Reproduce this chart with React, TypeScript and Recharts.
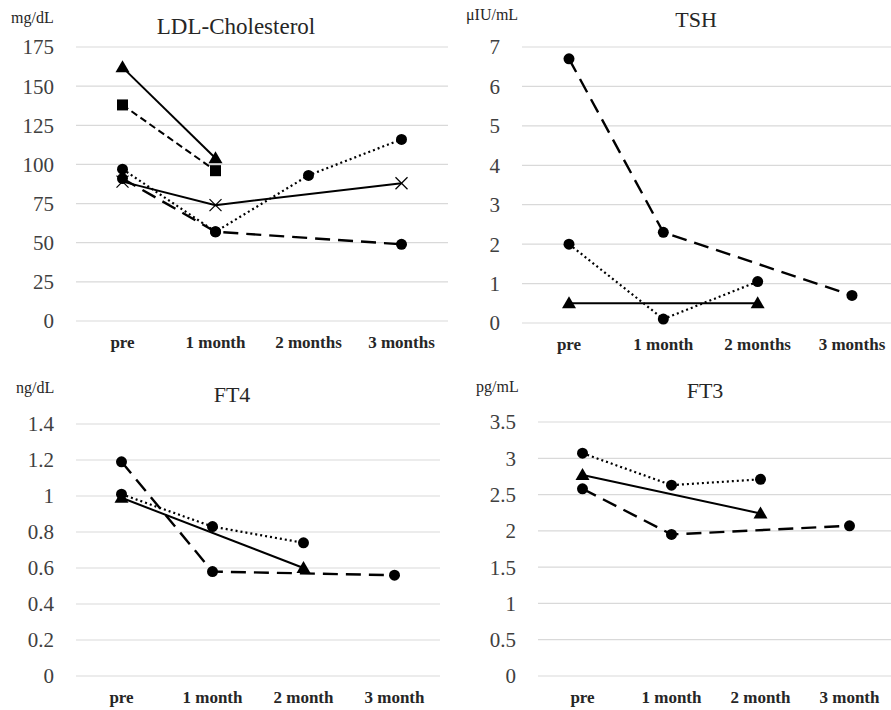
import { LineChart, Line, XAxis, YAxis, CartesianGrid } from 'recharts';

const monthsPlural = ['pre', '1 month', '2 months', '3 months'];
const monthsSingular = ['pre', '1 month', '2 month', '3 month'];

// LDL-Cholesterol (mg/dL)
const ldlTriangle = [162, 104, null, null];
const ldlSquare = [138, 96, null, null];
const ldlDotted = [97, 57, 93, 116];
const ldlCross = [89, 74, null, 88];
const ldlDashed = [91, 57, null, 49];
const ldlTicks = [0, 25, 50, 75, 100, 125, 150, 175];

// TSH (μIU/mL)
const tshDashed = [6.7, 2.3, null, 0.7];
const tshDotted = [2.0, 0.1, 1.05, null];
const tshTriangle = [0.5, null, 0.5, null];
const tshTicks = [0, 1, 2, 3, 4, 5, 6, 7];

// FT4 (ng/dL)
const ft4Dashed = [1.19, 0.58, null, 0.56];
const ft4Dotted = [1.01, 0.83, 0.74, null];
const ft4Triangle = [0.99, null, 0.6, null];
const ft4Ticks = [0, 0.2, 0.4, 0.6, 0.8, 1, 1.2, 1.4];

// FT3 (pg/mL)
const ft3Dotted = [3.07, 2.63, 2.71, null];
const ft3Triangle = [2.77, null, 2.24, null];
const ft3Dashed = [2.58, 1.95, null, 2.07];
const ft3Ticks = [0, 0.5, 1, 1.5, 2, 2.5, 3, 3.5];

const SERIF = "'Liberation Serif', 'Times New Roman', serif";
const INK = '#000';

type Marker = 'circle' | 'triangle' | 'square' | 'cross';
type Style = 'solid' | 'dash' | 'longdash' | 'dot';

const dashes: Record<Style, string | undefined> = {
  solid: undefined,
  dash: '7 4',
  longdash: '15 8',
  dot: '2 3',
};

function makeDot(marker: Marker) {
  return (props: any) => {
    const { cx, cy, index } = props;
    const k = `${marker}-${index}`;
    if (cx == null || cy == null) return <g key={k} />;
    if (marker === 'circle') return <circle key={k} cx={cx} cy={cy} r={5.5} fill={INK} />;
    if (marker === 'square') return <rect key={k} x={cx - 5.5} y={cy - 5.5} width={11} height={11} fill={INK} />;
    if (marker === 'triangle')
      return <polygon key={k} points={`${cx},${cy - 7} ${cx - 7},${cy + 5} ${cx + 7},${cy + 5}`} fill={INK} />;
    return (
      <g key={k} stroke={INK} strokeWidth={1.2}>
        <line x1={cx - 6} y1={cy - 6} x2={cx + 6} y2={cy + 6} />
        <line x1={cx - 6} y1={cy + 6} x2={cx + 6} y2={cy - 6} />
      </g>
    );
  };
}

const renderXTick = (props: any) => {
  const { x, y, payload, index } = props;
  return (
    <text
      key={`x-${index}`}
      x={x}
      y={y}
      dy="0.71em"
      textAnchor="middle"
      fill="#262626"
      style={{ fontFamily: SERIF, fontSize: 17, fontWeight: 700 }}
    >
      {payload.value}
    </text>
  );
};

const renderYTick = (props: any) => {
  const { x, y, payload, index } = props;
  return (
    <text
      key={`y-${index}`}
      x={x}
      y={y}
      dy="0.355em"
      textAnchor="end"
      fill="#404040"
      style={{ fontFamily: SERIF, fontSize: 21 }}
    >
      {payload.value}
    </text>
  );
};

interface Series {
  key: string;
  values: (number | null)[];
  marker: Marker;
  style: Style;
}

interface PanelProps {
  left: number;
  top: number;
  width: number;
  height: number;
  plotTop: number;
  axisWidth: number;
  padX: number;
  categories: string[];
  ticks: number[];
  series: Series[];
}

function Panel({ left, top, width, height, plotTop, axisWidth, padX, categories, ticks, series }: PanelProps) {
  const data = categories.map((name, i) => {
    const row: Record<string, string | number | null> = { name };
    series.forEach((s) => {
      row[s.key] = s.values[i];
    });
    return row;
  });

  return (
    <div style={{ position: 'absolute', left, top, fontFamily: SERIF }}>
      <LineChart width={width} height={height} data={data} margin={{ top: plotTop, right: 0, bottom: 0, left: 0 }}>
        <CartesianGrid vertical={false} stroke="#d9d9d9" strokeWidth={1.2} />
        <XAxis
          dataKey="name"
          interval={0}
          axisLine={false}
          tickLine={false}
          tickSize={0}
          tickMargin={15}
          height={34}
          padding={{ left: padX, right: padX }}
          tick={renderXTick}
        />
        <YAxis
          width={axisWidth}
          domain={[ticks[0], ticks[ticks.length - 1]]}
          ticks={ticks}
          interval={0}
          axisLine={false}
          tickLine={false}
          tickSize={0}
          tickMargin={22}
          tick={renderYTick}
        />
        {series.map((s) => (
          <Line
            key={s.key}
            dataKey={s.key}
            type="linear"
            stroke={INK}
            strokeWidth={s.style === 'dot' ? 2.2 : s.style === 'longdash' ? 2.4 : 2}
            strokeDasharray={dashes[s.style]}
            dot={makeDot(s.marker)}
            activeDot={false}
            connectNulls
            isAnimationActive={false}
          />
        ))}
      </LineChart>
    </div>
  );
}

export default function App() {
  return (
    <div
      style={{
        position: 'absolute',
        left: 0,
        top: 0,
        width: 891,
        height: 710,
        overflow: 'hidden',
        background: '#fff',
      }}
    >
      <Panel
        left={0}
        top={0}
        width={448}
        height={355}
        plotTop={47}
        axisWidth={76}
        padX={46.5}
        categories={monthsPlural}
        ticks={ldlTicks}
        series={[
          { key: 'triangle', values: ldlTriangle, marker: 'triangle', style: 'solid' },
          { key: 'square', values: ldlSquare, marker: 'square', style: 'dash' },
          { key: 'dotted', values: ldlDotted, marker: 'circle', style: 'dot' },
          { key: 'cross', values: ldlCross, marker: 'cross', style: 'solid' },
          { key: 'dashed', values: ldlDashed, marker: 'circle', style: 'longdash' },
        ]}
      />
      <Panel
        left={445}
        top={0}
        width={454}
        height={357}
        plotTop={47}
        axisWidth={77}
        padX={47}
        categories={monthsPlural}
        ticks={tshTicks}
        series={[
          { key: 'dashed', values: tshDashed, marker: 'circle', style: 'longdash' },
          { key: 'dotted', values: tshDotted, marker: 'circle', style: 'dot' },
          { key: 'triangle', values: tshTriangle, marker: 'triangle', style: 'solid' },
        ]}
      />
      <Panel
        left={0}
        top={350}
        width={440}
        height={360}
        plotTop={74}
        axisWidth={76}
        padX={45.5}
        categories={monthsSingular}
        ticks={ft4Ticks}
        series={[
          { key: 'dashed', values: ft4Dashed, marker: 'circle', style: 'longdash' },
          { key: 'dotted', values: ft4Dotted, marker: 'circle', style: 'dot' },
          { key: 'triangle', values: ft4Triangle, marker: 'triangle', style: 'solid' },
        ]}
      />
      <Panel
        left={445}
        top={350}
        width={449}
        height={360}
        plotTop={72}
        axisWidth={93}
        padX={44.5}
        categories={monthsSingular}
        ticks={ft3Ticks}
        series={[
          { key: 'dotted', values: ft3Dotted, marker: 'circle', style: 'dot' },
          { key: 'triangle', values: ft3Triangle, marker: 'triangle', style: 'solid' },
          { key: 'dashed', values: ft3Dashed, marker: 'circle', style: 'longdash' },
        ]}
      />
      <svg
        width={891}
        height={710}
        style={{ position: 'absolute', left: 0, top: 0, pointerEvents: 'none' }}
        fontFamily={SERIF}
      >
        <text x={236} y={34} fontSize={23} textAnchor="middle" fill="#262626">LDL-Cholesterol</text>
        <text x={696} y={27} fontSize={22} textAnchor="middle" fill="#262626">TSH</text>
        <text x={232} y={402} fontSize={22} textAnchor="middle" fill="#262626">FT4</text>
        <text x={705} y={398} fontSize={22} textAnchor="middle" fill="#262626">FT3</text>
        <text x={11} y={23} fontSize={16} fill="#262626">mg/dL</text>
        <text x={466} y={20} fontSize={16} fill="#262626">μIU/mL</text>
        <text x={16} y={393} fontSize={16} fill="#262626">ng/dL</text>
        <text x={476} y={392} fontSize={16} fill="#262626">pg/mL</text>
      </svg>
    </div>
  );
}
